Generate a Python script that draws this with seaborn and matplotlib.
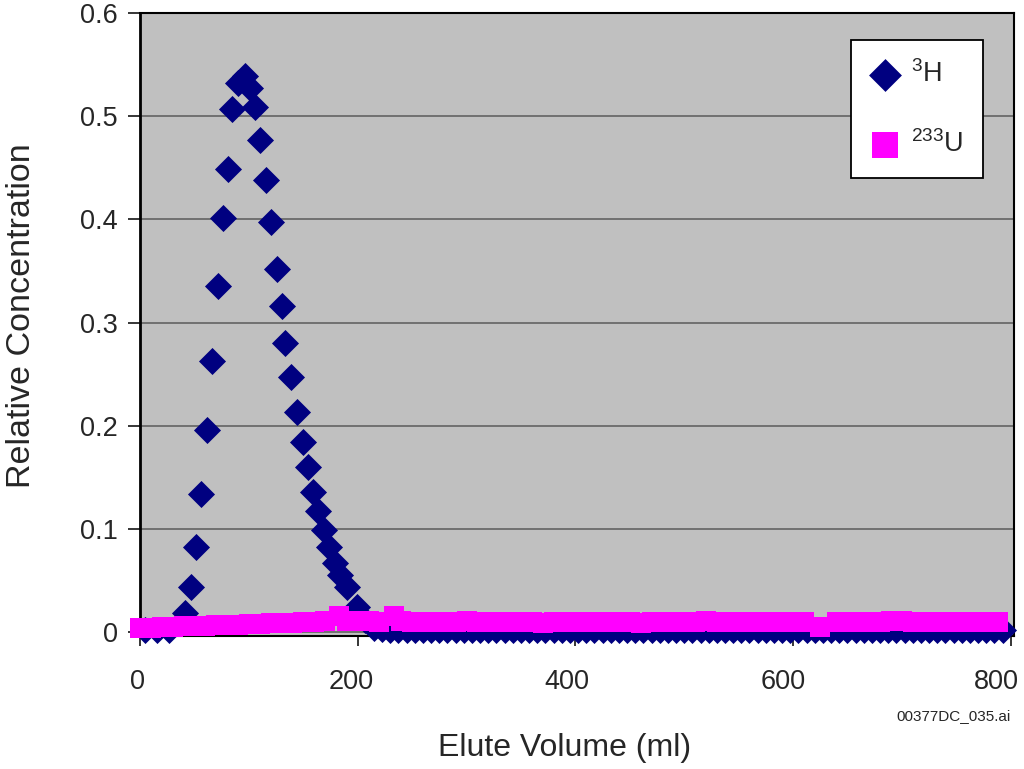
import matplotlib
matplotlib.use('Agg')
import matplotlib.pyplot as plt
from matplotlib.transforms import ScaledTranslation
import seaborn as sns

# data
h_vol = [5, 16, 27, 41, 47, 51.5, 56, 62, 66, 72, 76, 81, 85, 90, 96.5, 101, 106, 110, 116,
         120.5, 126, 130.5, 133, 139, 144, 150, 154.5, 159, 164, 169, 174, 179, 184, 190,
         199.5, 207,
         215, 222.5, 230, 237.5, 245, 252.5, 260, 267.5, 275, 282.5, 290, 297.5, 305, 312.5,
         320, 327.5, 335, 342.5, 350, 357.5, 365, 372.5, 380, 387.5, 395, 402.5, 410, 417.5,
         425, 432.5, 440, 447.5, 455, 462.5, 470, 477.5, 485, 492.5, 500, 507.5, 515, 522.5,
         530, 537.5, 545, 552.5, 560, 567.5, 575, 582.5, 590, 597.5, 605, 612.5, 620, 627.5,
         635, 642.5, 650, 657.5, 665, 672.5, 680, 687.5, 695, 702.5, 710, 717.5, 725, 732.5,
         740, 747.5, 755, 762.5, 770, 777.5, 785, 792.5]
h_conc = [0.002, 0.002, 0.002, 0.018, 0.044, 0.082, 0.134, 0.196, 0.263, 0.335, 0.401, 0.449,
          0.507, 0.532, 0.539, 0.527, 0.509, 0.477, 0.438, 0.397, 0.352, 0.316, 0.280, 0.247,
          0.213, 0.184, 0.160, 0.136, 0.117, 0.099, 0.082, 0.067, 0.055, 0.044, 0.024, 0.012,
          0.004, 0.003, 0.002, 0.002, 0.002, 0.002, 0.002, 0.002, 0.002, 0.002, 0.002, 0.002,
          0.002, 0.002, 0.002, 0.002, 0.002, 0.002, 0.002, 0.002, 0.002, 0.002, 0.002, 0.002,
          0.002, 0.002, 0.002, 0.002, 0.002, 0.002, 0.002, 0.002, 0.002, 0.002, 0.002, 0.002,
          0.002, 0.002, 0.002, 0.002, 0.002, 0.002, 0.002, 0.002, 0.002, 0.002, 0.002, 0.002,
          0.002, 0.002, 0.002, 0.002, 0.002, 0.002, 0.002, 0.002, 0.002, 0.002, 0.002, 0.002,
          0.002, 0.002, 0.002, 0.002, 0.002, 0.002, 0.002, 0.002, 0.002, 0.002, 0.002, 0.002,
          0.002, 0.002, 0.002, 0.002, 0.002, 0.002]

u_vol = [0, 10, 20, 30, 40, 50, 60, 70, 80, 90, 100, 110, 120, 130, 140, 150, 160, 170, 183,
         190, 200, 210, 220, 233, 240, 250, 260, 270, 280, 290, 300, 310, 320, 330, 340, 350,
         360, 370, 380, 390, 400, 410, 420, 430, 440, 450, 460, 470, 480, 490, 500, 510, 520,
         530, 540, 550, 560, 570, 580, 590, 600, 610, 625, 640, 650, 660, 670, 680, 690, 700,
         710, 720, 730, 740, 750, 760, 770, 780, 788]
u_conc = [0.004, 0.004, 0.005, 0.005, 0.006, 0.006, 0.006, 0.007, 0.007, 0.007, 0.008, 0.008,
          0.009, 0.009, 0.009, 0.010, 0.010, 0.011, 0.015, 0.011, 0.011, 0.011, 0.010, 0.015,
          0.011, 0.010, 0.010, 0.010, 0.010, 0.010, 0.011, 0.010, 0.010, 0.010, 0.010, 0.010,
          0.010, 0.009, 0.010, 0.010, 0.010, 0.010, 0.010, 0.010, 0.010, 0.010, 0.009, 0.010,
          0.010, 0.010, 0.010, 0.010, 0.011, 0.010, 0.010, 0.010, 0.010, 0.010, 0.010, 0.010,
          0.010, 0.010, 0.005, 0.010, 0.010, 0.010, 0.010, 0.010, 0.011, 0.011, 0.010, 0.010,
          0.010, 0.010, 0.010, 0.010, 0.010, 0.010, 0.010]

x_ticks = [0, 200, 400, 600, 800]
y_ticks = [0, 0.1, 0.2, 0.3, 0.4, 0.5, 0.6]
y_ticklabels = ['0', '0.1', '0.2', '0.3', '0.4', '0.5', '0.6']

sns.set_style('ticks')
plt.rcParams['font.family'] = ['Liberation Sans', 'DejaVu Sans']
plt.rcParams['mathtext.fontset'] = 'custom'
plt.rcParams['mathtext.rm'] = 'Liberation Sans'

fig = plt.figure(figsize=(10.24, 7.69), dpi=100)
ax = fig.add_axes([0.1367, 0.173, 0.8535, 0.810])
ax.set_facecolor('#c0c0c0')

sns.scatterplot(x=h_vol, y=h_conc, marker='D', s=190, color='#000080', linewidth=0,
                clip_on=False, zorder=3, label=r'$\mathregular{^{3}H}$', ax=ax)
sns.scatterplot(x=u_vol, y=u_conc, marker='s', s=210, color='#ff00ff', linewidth=0,
                clip_on=False, zorder=4, label=r'$\mathregular{^{233}U}$', ax=ax)

ax.set_xlim(0, 803)
ax.set_ylim(-0.0039, 0.6)
ax.set_xticks(x_ticks)
ax.set_yticks(y_ticks)
ax.set_yticklabels(y_ticklabels)
ax.yaxis.grid(True, color='#707070', linewidth=1.4)
ax.set_axisbelow(True)

for side in ['left', 'right', 'top', 'bottom']:
    ax.spines[side].set_color('black')
    ax.spines[side].set_linewidth(1.5)
ax.spines['left'].set_linewidth(2)

ax.tick_params(axis='y', direction='out', length=9, width=1.3, pad=7, labelsize=19.5)
ax.tick_params(axis='x', direction='out', length=7, width=1.3, pad=17, labelsize=19.5)

# labels in the original sit a little left of their ticks
for lab, dx in zip(ax.get_xticklabels(), [-2, -6, -8, -10, -14]):
    lab.set_transform(lab.get_transform() + ScaledTranslation(dx / 100, 0, fig.dpi_scale_trans))

ax.set_xlabel('Elute Volume (ml)', fontsize=23)
ax.set_ylabel('Relative Concentration', fontsize=24.5)
ax.xaxis.set_label_coords(0.486, -0.156)
ax.yaxis.set_label_coords(-0.118, 0.515)

leg = ax.legend(loc='upper left', bbox_to_anchor=(0.814, 0.957), fontsize=19.5,
                frameon=True, fancybox=False, framealpha=1, edgecolor='black',
                borderaxespad=0, labelspacing=1.55, borderpad=0.75, handletextpad=0.45,
                handlelength=1.0)
leg.get_frame().set_linewidth(1.3)
leg.legend_handles[0].set_sizes([280])
leg.legend_handles[1].set_sizes([340])

fig.text(0.987, 0.069, '00377DC_035.ai', fontsize=11, ha='right', va='center')

plt.savefig('out.png', dpi=100)
